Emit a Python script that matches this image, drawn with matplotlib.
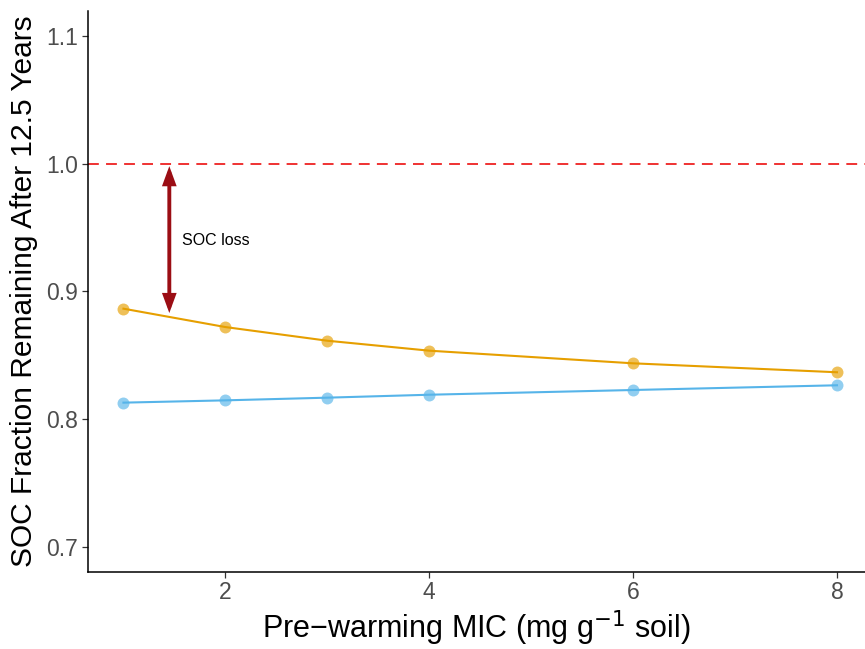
import numpy as np
import matplotlib
matplotlib.use('Agg')
from matplotlib import pyplot as plt

plt.rcParams['font.family'] = ['Liberation Sans', 'DejaVu Sans']

# 데이터
mic = [1, 2, 3, 4, 6, 8]
soc_orange = [0.8864, 0.8720, 0.8613, 0.8535, 0.8436, 0.8366]
soc_blue = [0.8128, 0.8146, 0.8167, 0.8190, 0.8227, 0.8264]
xticks = [2, 4, 6, 8]
yticks = [0.7, 0.8, 0.9, 1.0, 1.1]

arrow_x = 1.45
arrow_top = 0.998
arrow_bottom = 0.883

fig = plt.figure(figsize=(8.65, 6.49), dpi=100)
ax = fig.add_axes([0.1017, 0.1191, 0.8983, 0.8639])

ax.axhline(1.0, color='#EE2222', lw=1.3, ls=(0, (6, 4)), zorder=1)

ax.plot(mic, soc_orange, color='#E69F00', lw=1.5, zorder=2)
ax.plot(mic, soc_orange, 'o', color='#E69F00', alpha=0.65, ms=8.6, mec='none', zorder=3)
ax.plot(mic, soc_blue, color='#56B4E9', lw=1.5, zorder=2)
ax.plot(mic, soc_blue, 'o', color='#56B4E9', alpha=0.65, ms=8.6, mec='none', zorder=3)

# 화살표 (SOC loss)
ax.annotate('', xy=(arrow_x, arrow_top), xytext=(arrow_x, arrow_bottom),
            arrowprops=dict(arrowstyle='<|-|>,head_length=0.9,head_width=0.33',
                            color='#9B0D14', lw=2.8, shrinkA=0, shrinkB=0,
                            joinstyle='miter', capstyle='butt', mutation_scale=10))
ax.text(1.578, 0.9396, 'SOC loss', fontsize=11.5, va='center', ha='left', color='black')

ax.set_xlim(0.652, 8.275)
ax.set_ylim(0.6804, 1.1195)
ax.set_xticks(xticks)
ax.set_yticks(yticks)
ax.set_yticklabels(['0.7', '0.8', '0.9', '1.0', '1.1'])

for s in ['top', 'right']:
    ax.spines[s].set_visible(False)
for s in ['left', 'bottom']:
    ax.spines[s].set_linewidth(1.1)
    ax.spines[s].set_color('black')
ax.tick_params(axis='both', length=4, width=0.9, color='#333333',
               labelsize=16.5, labelcolor='#4D4D4D', pad=3)

ax.set_xlabel('Pre\u2212warming MIC (mg g$^{\u22121}$ soil)', fontsize=22, labelpad=3)
ax.set_ylabel('SOC Fraction Remaining After 12.5 Years', fontsize=21.5, labelpad=6)

fig.savefig('out.png', dpi=100)
